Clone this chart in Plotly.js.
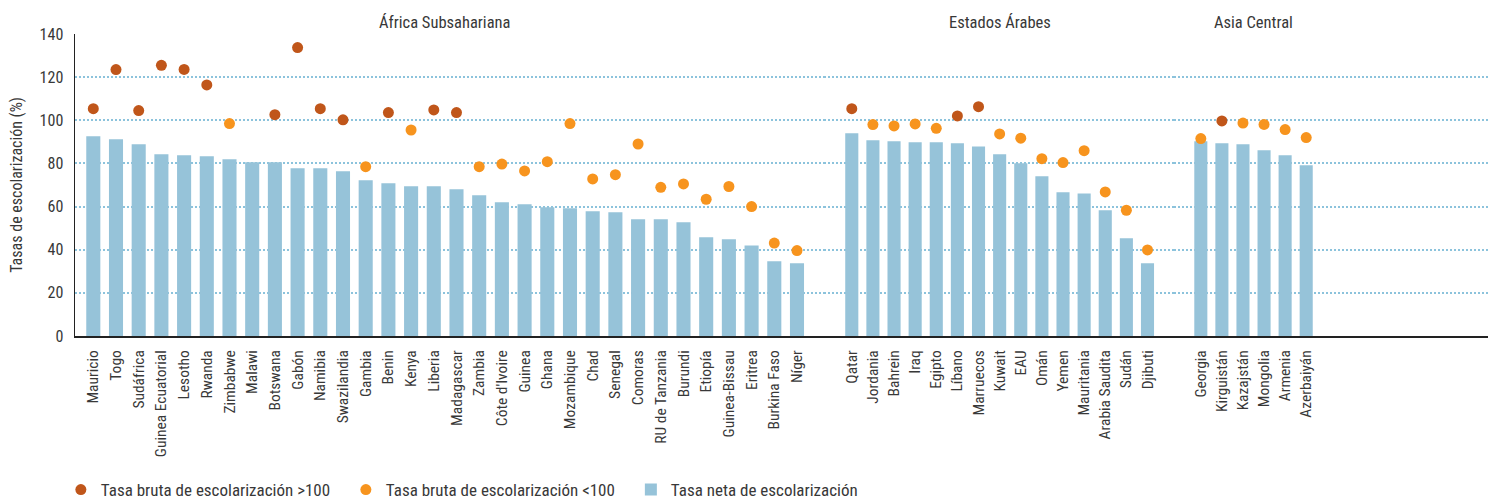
<!DOCTYPE html>
<html>
<head>
<meta charset="utf-8">
<script src="https://cdn.plot.ly/plotly-3.0.1.min.js"></script>
<style>
  html, body { margin: 0; padding: 0; background: #ffffff; overflow: hidden; }
  #chart { width: 1488px; height: 512px; }
</style>
</head>
<body>
<div id="chart"></div>
<script>
// ---------- DATA ----------
const regionNames = ["África Subsahariana", "Estados Árabes", "Asia Central"];

const africaCountries = ["Mauricio", "Togo", "Sudáfrica", "Guinea Ecuatorial", "Lesotho", "Rwanda", "Zimbabwe", "Malawi", "Botswana", "Gabón", "Namibia", "Swazilandia", "Gambia", "Benin", "Kenya", "Liberia", "Madagascar", "Zambia", "Côte d'Ivoire", "Guinea", "Ghana", "Mozambique", "Chad", "Senegal", "Comoras", "RU de Tanzania", "Burundi", "Etiopía", "Guinea-Bissau", "Eritrea", "Burkina Faso", "Níger"];
const africaNet = [92.6, 91.2, 88.9, 84.2, 83.8, 83.3, 81.9, 80.5, 80.5, 77.8, 77.8, 76.4, 72.2, 70.8, 69.4, 69.4, 68.0, 65.2, 62.0, 61.1, 59.7, 59.2, 57.8, 57.4, 54.1, 54.1, 52.7, 45.8, 44.8, 42.0, 34.6, 33.7];
const africaGrossHigh = [105.4, 123.5, 104.5, 125.5, 123.6, 116.4, null, 145.1, 102.6, 133.7, 105.4, 100.2, null, 103.6, null, 104.8, 103.6, null, null, null, null, null, null, null, null, null, null, null, null, null, null, null];
const africaGrossLow = [null, null, null, null, null, null, 98.5, null, null, null, null, null, 78.5, null, 95.5, null, null, 78.5, 79.7, 76.5, 80.8, 98.5, 72.8, 74.8, 89.0, 68.9, 70.5, 63.4, 69.3, 60.0, 43.1, 39.6];

const arabCountries = ["Qatar", "Jordania", "Bahrein", "Iraq", "Egipto", "Líbano", "Marruecos", "Kuwait", "EAU", "Omán", "Yemen", "Mauritania", "Arabia Saudita", "Sudán", "Djibuti"];
const arabNet = [94.0, 90.7, 90.3, 89.8, 89.8, 89.3, 87.9, 84.2, 80.1, 74.0, 66.6, 66.1, 58.3, 45.3, 33.7];
const arabGrossHigh = [105.4, null, null, null, null, 102.0, 106.3, null, null, null, null, null, null, null, null];
const arabGrossLow = [null, 98.0, 97.4, 98.3, 96.3, null, null, 93.7, 91.7, 82.2, 80.4, 85.9, 66.8, 58.3, 39.9];

const asiaCountries = ["Georgia", "Kirguistán", "Kazajstán", "Mongolia", "Armenia", "Azerbaiyán"];
const asiaNet = [90.3, 89.3, 88.9, 86.1, 83.8, 79.1];
const asiaGrossHigh = [null, 99.7, null, null, null, null];
const asiaGrossLow = [91.5, null, 98.7, 98.1, 95.7, 92.0];

const seriesNames = ["Tasa bruta de escolarización >100", "Tasa bruta de escolarización <100", "Tasa neta de escolarización"];
const yTitle = "Tasas de escolarización (%)";

// ---------- STYLE ----------
const FONT = "'Liberation Sans Narrow', 'Arial Narrow', 'Roboto Condensed', Roboto, sans-serif";
const TEXT = "#383838";
const BAR = "#96c3d9";
const DARK = "#c0561a";
const LIGHT = "#f7941e";
const GRID = "#8cc3dc";

const regions = [
  {name: regionNames[0], cats: africaCountries, net: africaNet, hi: africaGrossHigh, lo: africaGrossLow, xa: "x"},
  {name: regionNames[1], cats: arabCountries, net: arabNet, hi: arabGrossHigh, lo: arabGrossLow, xa: "x2"},
  {name: regionNames[2], cats: asiaCountries, net: asiaNet, hi: asiaGrossHigh, lo: asiaGrossLow, xa: "x3"}
];

const traces = [];
regions.forEach((r, i) => {
  traces.push({
    type: "scatter", mode: "markers", x: r.cats, y: r.hi, xaxis: r.xa, yaxis: "y",
    name: seriesNames[0], legendgroup: "hi", showlegend: i === 0,
    marker: {color: DARK, size: 11}, cliponaxis: false, hoverinfo: "skip"
  });
  traces.push({
    type: "scatter", mode: "markers", x: r.cats, y: r.lo, xaxis: r.xa, yaxis: "y",
    name: seriesNames[1], legendgroup: "lo", showlegend: i === 0,
    marker: {color: LIGHT, size: 11}, cliponaxis: false, hoverinfo: "skip"
  });
  traces.push({
    type: "bar", x: r.cats, y: r.net, xaxis: r.xa, yaxis: "y",
    name: seriesNames[2], legendgroup: "net", showlegend: i === 0,
    marker: {color: BAR, line: {width: 0}}, hoverinfo: "skip"
  });
});

function xAxis(domain, range, cats) {
  return {
    domain: domain, range: range, type: "category", anchor: "y",
    tickmode: "array", tickvals: cats, ticktext: cats,
    showline: true, linecolor: "#222222", linewidth: 2,
    showgrid: false, zeroline: false, ticks: "", tickangle: -90,
    ticklabelstandoff: 6,
    tickfont: {family: FONT, size: 15.5, color: TEXT},
    automargin: false, fixedrange: true
  };
}

const layout = {
  width: 1488, height: 512,
  margin: {l: 75, r: 0, t: 34, b: 176},
  paper_bgcolor: "#ffffff", plot_bgcolor: "#ffffff",
  font: {family: FONT, color: TEXT, size: 16},
  bargap: 0.38,
  showlegend: true,
  hovermode: false,
  xaxis: xAxis([0, 0.5304], [-0.806, 32.21], africaCountries),
  xaxis2: xAxis([0.5304, 0.7778], [-1.294, 15.256], arabCountries),
  xaxis3: xAxis([0.7778, 1], [-1.271, 13.625], asiaCountries),
  yaxis: {
    range: [0, 140], dtick: 20, tick0: 0,
    showline: true, linecolor: "#222222", linewidth: 1.5,
    showgrid: true, gridcolor: GRID, gridwidth: 2, griddash: "2px,2px",
    zeroline: false, ticks: "", ticklabelstandoff: 7,
    tickfont: {family: FONT, size: 16, color: TEXT},
    title: {text: yTitle, font: {family: FONT, size: 16, color: TEXT}, standoff: 13},
    automargin: false, fixedrange: true
  },
  legend: {
    orientation: "h", x: -0.010, xanchor: "left",
    y: -0.51, yanchor: "middle",
    font: {family: FONT, size: 17, color: TEXT},
    traceorder: "normal", entrywidth: 240, entrywidthmode: "pixels",
    bgcolor: "rgba(0,0,0,0)"
  },
  annotations: regions.map(r => ({
    text: r.name, xref: r.xa, yref: "paper",
    x: (r.cats.length - 1) / 2, y: 1.039, xanchor: "center", yanchor: "middle",
    showarrow: false, font: {family: FONT, size: 16.5, color: TEXT}
  }))
};

Plotly.newPlot("chart", traces, layout, {displayModeBar: false, staticPlot: true});
</script>
</body>
</html>
